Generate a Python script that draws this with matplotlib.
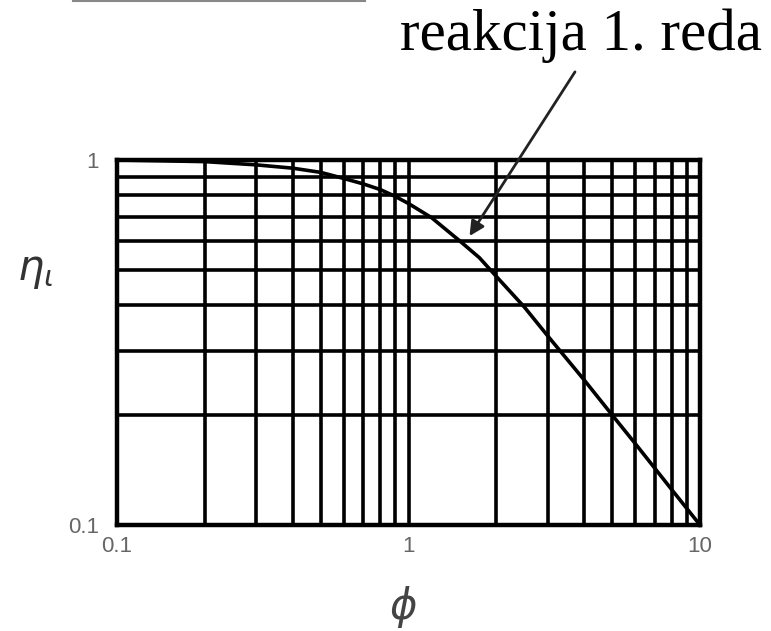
#encoding:utf-8
# efektivnost katalizatora - reakcija 1. reda
import numpy as np
import matplotlib
matplotlib.use('Agg')
import matplotlib.pyplot as plt
from matplotlib.ticker import NullFormatter

# tocke ocitane sa slike
phi = [0.1, 0.2, 0.3, 0.4, 0.5, 0.6, 0.7, 0.8, 0.9, 1.0, 1.2, 1.5, 1.75, 2.0, 2.5, 3.0, 4.0, 5.0, 6.0, 7.0, 8.0, 10.0]
eta = [1.0, 0.99, 0.97, 0.95, 0.925, 0.89, 0.86, 0.83, 0.795, 0.76, 0.695, 0.60, 0.54, 0.48, 0.395, 0.33, 0.25, 0.20, 0.167, 0.143, 0.125, 0.10]

xticks = [0.1, 1, 10]
xtick_labels = ['0.1', '1', '10']
yticks = [0.1, 1]
ytick_labels = ['0.1', '1']

fig = plt.figure(figsize=(7.71, 6.31), dpi=100, facecolor='white')
ax = fig.add_axes([0.1518, 0.168, 0.7561, 0.5784])

ax.set_xscale('log')
ax.set_yscale('log')
ax.set_xlim(0.1, 10)
ax.set_ylim(0.1, 1)

# mreza na svim (i sporednim) podjelama
ax.grid(True, which='both', color='black', lw=2.6)
ax.set_axisbelow(True)
for s in ax.spines.values():
    s.set_linewidth(3.2)
    s.set_color('black')

ax.plot(phi, eta, color='black', lw=2.6, clip_on=False, zorder=5)

ax.set_xticks(xticks)
ax.set_xticklabels(xtick_labels)
ax.set_yticks(yticks)
ax.set_yticklabels(ytick_labels)
ax.xaxis.set_minor_formatter(NullFormatter())
ax.yaxis.set_minor_formatter(NullFormatter())
ax.tick_params(which='both', length=0)
ax.tick_params(axis='x', pad=8)
ax.tick_params(axis='y', pad=13)
for lab in ax.get_xticklabels() + ax.get_yticklabels():
    lab.set_fontfamily('Liberation Sans')
    lab.set_fontsize(16)
    lab.set_color('#666666')

ax.set_ylabel(r'$\eta_\iota$', rotation=0, fontsize=30, color='#333333', va='center', ha='center')
ax.yaxis.set_label_coords(-0.141, 0.70)
ax.set_xlabel(r'$\phi$', fontsize=30, color='#444444', va='center', ha='center')
ax.xaxis.set_label_coords(0.49, -0.225)

# natpis i strelica
fig.text(0.7536, 0.921, 'reakcija 1. reda', family='Liberation Serif', fontsize=42.5,
         ha='center', va='baseline', color='black')
ax.annotate('', xy=(1.6, 0.61), xytext=(3.77, 1.77), xycoords='data',
            arrowprops=dict(arrowstyle='-|>', color='#222222', lw=2.0, mutation_scale=22),
            annotation_clip=False)

# odrezana linija na vrhu
fig.add_artist(plt.Line2D([73/771.0, 365/771.0], [0.999, 0.999], color='#888888', lw=1.5))

fig.savefig('out.png', dpi=100, facecolor='white')
